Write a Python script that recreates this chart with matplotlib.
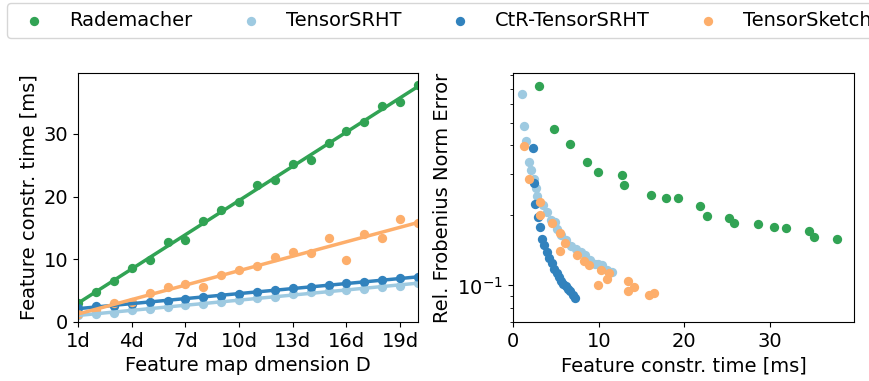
#!/usr/bin/env python

import numpy as np
import matplotlib
matplotlib.use("Agg")
import matplotlib.pyplot as plt
from matplotlib.ticker import NullFormatter

# Feature map dimension (multiples of d)
dims = [1, 2, 3, 4, 5, 6, 7, 8, 9, 10, 11, 12, 13, 14, 15, 16, 17, 18, 19, 20]
tick_dims = [1, 4, 7, 10, 13, 16, 19]
tick_labels = ["1d", "4d", "7d", "10d", "13d", "16d", "19d"]

# construction times [ms]
rad_time = [3.0, 4.8, 6.6, 8.6, 9.9, 12.7, 13.0, 16.1, 17.9, 19.2,
            21.8, 22.6, 25.2, 25.8, 28.6, 30.5, 31.9, 34.5, 35.1, 37.8]
srht_time = [1.05, 1.2, 1.5, 1.9, 2.1, 2.45, 2.66, 2.9, 3.24, 3.5,
             3.77, 4.04, 4.47, 4.73, 4.94, 5.1, 5.26, 5.58, 5.8, 6.16]
ctr_time = [2.3, 2.5, 2.57, 2.9, 3.15, 3.4, 3.65, 3.95, 4.2, 4.5,
            4.8, 5.1, 5.38, 5.6, 5.85, 6.15, 6.4, 6.65, 6.95, 7.25]
ts_time = [1.25, 1.9, 3.1, 3.2, 4.6, 5.5, 6.1, 5.5, 7.5, 8.25,
           8.9, 10.3, 11.15, 11.0, 13.4, 9.9, 14.1, 13.4, 16.45, 15.85]

# relative Frobenius norm errors
rad_err = [0.719, 0.467, 0.403, 0.340, 0.307, 0.299, 0.269, 0.245, 0.238, 0.237,
           0.219, 0.199, 0.195, 0.186, 0.183, 0.178, 0.177, 0.172, 0.162, 0.158]
ctr_err = [0.390, 0.275, 0.223, 0.196, 0.179, 0.158, 0.149, 0.139, 0.131, 0.125,
           0.118, 0.113, 0.109, 0.104, 0.101, 0.099, 0.097, 0.095, 0.091, 0.088]
ts_err = [0.398, 0.287, 0.229, 0.201, 0.185, 0.168, 0.152, 0.140, 0.135, 0.127,
          0.122, 0.117, 0.113, 0.107, 0.104, 0.100, 0.098, 0.095, 0.093, 0.091]
# TensorSRHT error run has more points
srht_err_time = [1.05, 1.25, 1.56, 1.83, 2.07, 2.45, 2.65, 2.8, 3.5, 3.97,
                 4.48, 4.87, 5.14, 5.65, 6.24, 6.82, 7.4, 7.99, 8.38, 8.96,
                 9.54, 9.93, 10.44, 10.91, 11.5]
srht_err = [0.663, 0.481, 0.415, 0.339, 0.312, 0.286, 0.261, 0.241, 0.222, 0.207,
            0.190, 0.188, 0.175, 0.164, 0.157, 0.148, 0.143, 0.139, 0.135, 0.128,
            0.124, 0.124, 0.123, 0.117, 0.114]

names = ["Rademacher", "TensorSRHT", "CtR-TensorSRHT", "TensorSketch"]
colors = ["#31a354", "#9ecae1", "#3182bd", "#fdae6b"]


def main():
    plt.rcParams["font.size"] = 14
    fig = plt.figure(figsize=(8.7, 3.81), dpi=100)
    ax1 = fig.add_axes([0.0897, 0.1549, 0.3908, 0.6535])
    ax2 = fig.add_axes([0.5897, 0.1549, 0.3919, 0.6535])

    x = np.array(dims)
    times = [rad_time, srht_time, ctr_time, ts_time]
    for t, c, n in zip(times, colors, names):
        ax1.scatter(x, t, s=45, color=c, linewidths=0, label=n)
        k, b = np.polyfit(x, t, 1)
        ax1.plot(x, k * x + b, color=c, lw=2.5)
    ax1.set_xticks(tick_dims)
    ax1.set_xticklabels(tick_labels)
    ax1.set_xlim(1, 20)
    ax1.set_ylim(0, 39.7)
    ax1.set_xlabel("Feature map dmension D")
    ax1.set_ylabel("Feature constr. time [ms]")

    err_x = [rad_time, srht_err_time, ctr_time, ts_time]
    errs = [rad_err, srht_err, ctr_err, ts_err]
    for t, e, c in zip(err_x, errs, colors):
        ax2.scatter(t, e, s=45, color=c, linewidths=0)
    ax2.set_yscale("log")
    ax2.set_xlim(0, 39.8)
    ax2.set_ylim(0.0697, 0.816)
    ax2.set_xticks([0, 10, 20, 30])
    ax2.yaxis.set_minor_formatter(NullFormatter())
    ax2.set_xlabel("Feature constr. time [ms]")
    ax2.set_ylabel("Rel. Frobenius Norm Error")

    handles, labels = ax1.get_legend_handles_labels()
    fig.legend(handles, labels, loc="upper left", ncol=4, borderaxespad=0,
               bbox_to_anchor=(0.008, 0.992), bbox_transform=fig.transFigure)

    fig.savefig("out.png", dpi=100)


if __name__ == "__main__":
    main()
